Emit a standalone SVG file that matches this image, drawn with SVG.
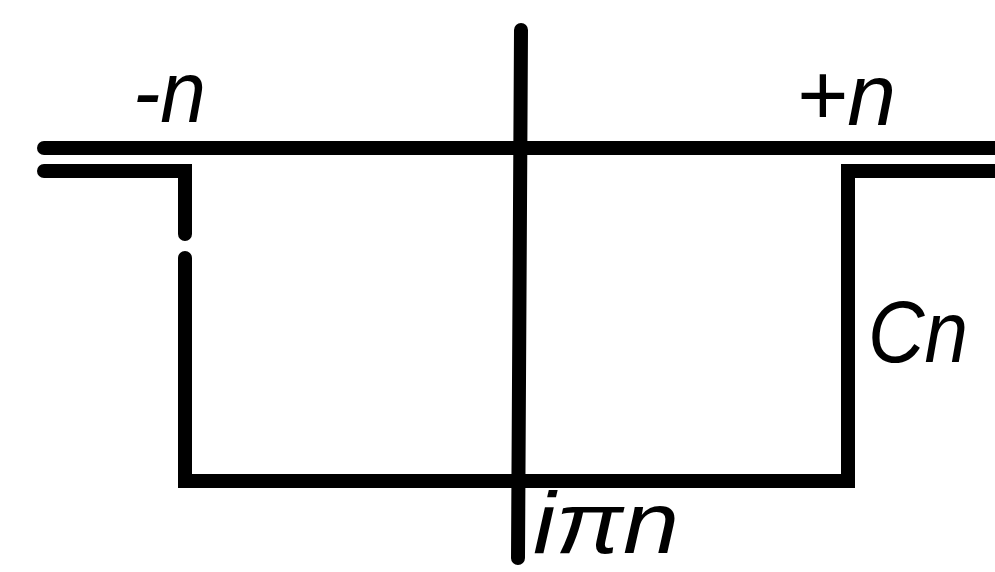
<svg xmlns="http://www.w3.org/2000/svg" width="995" height="572" viewBox="0 0 995 572">
<style>
.ln{fill:none;stroke:#000;stroke-width:14;stroke-linecap:round;stroke-linejoin:miter}
.lb{font-family:"Liberation Sans","DejaVu Sans",sans-serif;font-style:italic;font-size:88px;fill:#000}
</style>
<rect width="995" height="572" fill="#fff"/>
<g id="axes">
<line class="ln" x1="44" y1="148" x2="1000" y2="148"/>
<line class="ln" x1="521" y1="30" x2="518" y2="558"/>
</g>
<g id="contour">
<polyline class="ln" points="44,171 185,171 185,234"/>
<polyline class="ln" points="185,258 185,481 848,481 848,171 1000,171"/>
</g>
<g id="labels">
<text class="lb" x="133" y="122" textLength="73" lengthAdjust="spacingAndGlyphs">-n</text>
<text class="lb" x="796" y="125" textLength="100" lengthAdjust="spacingAndGlyphs">+n</text>
<text class="lb" x="868" y="362" textLength="100" lengthAdjust="spacingAndGlyphs">Cn</text>
<text class="lb" x="533" y="553" font-size="78" textLength="146" lengthAdjust="spacingAndGlyphs">iπn</text>
</g>
</svg>
